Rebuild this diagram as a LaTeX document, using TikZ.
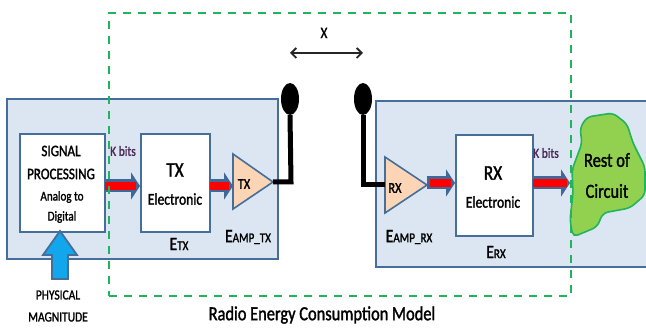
\documentclass[tikz,border=0pt]{standalone}
\usepackage{fontspec}
\setmainfont{Carlito}[FakeStretch=0.82,FakeBold=1.5]
\usetikzlibrary{arrows.meta,shapes.geometric}
\definecolor{panelfill}{HTML}{DCE6F2}
\definecolor{panelline}{HTML}{466E9A}
\definecolor{dashgreen}{HTML}{22B45C}
\definecolor{blobfill}{HTML}{92D050}
\definecolor{ampfill}{HTML}{FBD5B5}
\definecolor{upblue}{HTML}{12A6EC}
\definecolor{shaftblue}{HTML}{3F6797}
\definecolor{kbit}{HTML}{4A2A55}
\tikzset{
 x=1pt,y=-1pt,
 panel/.style={draw=panelline,fill=panelfill,line width=2pt},
 procbox/.style={draw=panelline,fill=white,line width=2pt,inner sep=0pt,anchor=north west,align=center},
 amp/.style={draw=panelline,fill=ampfill,line width=1.6pt,line join=miter},
 shaftline/.style={-{Triangle[length=9pt,width=27pt]},draw=shaftblue,line width=13pt},
 redline/.style={draw=red,line width=8pt},
 aerial/.style={draw=black,line width=5pt,line join=miter},
 aerialtop/.style={ellipse,fill=black,minimum width=18pt,minimum height=32pt,inner sep=0pt},
 txt/.style={inner sep=0pt,text=black,align=center},
}
\begin{document}
\begin{tikzpicture}
\useasboundingbox (0,0) rectangle (646,328);
% panels
\draw[panel] (7,99) rectangle (278,259);
\path[panel] (376,101) -- (650,101) -- (650,267) -- (376,267) -- cycle;
% boxes
\node[procbox,minimum width=85pt,minimum height=98pt] (sp) at (19,133) {};
\node[procbox,minimum width=69pt,minimum height=98pt] (tx) at (140,133) {};
\node[procbox,minimum width=77pt,minimum height=101pt] (rx) at (455,134) {};
\node[txt,font=\fontsize{16}{18}\selectfont] at (61,151) {SIGNAL};
\node[txt,font=\fontsize{16}{18}\selectfont] at (61,174) {PROCESSING};
\node[txt,font=\fontsize{13.5}{15}\selectfont] at (62,197) {Analog to};
\node[txt,font=\fontsize{13.5}{15}\selectfont] at (62,217) {Digital};
\node[txt,font=\fontsize{21}{23}\selectfont] at (175,170) {TX};
\node[txt,font=\fontsize{16.5}{18}\selectfont] at (175,199) {Electronic};
\node[txt,font=\fontsize{21}{23}\selectfont] at (493,173) {RX};
\node[txt,font=\fontsize{16.5}{18}\selectfont] at (493,202) {Electronic};
% amplifiers
\coordinate (txin) at (233,182);
\coordinate (txout) at (273,182);
\coordinate (rxin) at (385,185);
\coordinate (rxout) at (427,185);
\draw[amp] (233,154) -- (txout) -- (233,209) -- cycle;
\draw[amp] (385,157) -- (rxout) -- (385,213) -- cycle;
\node[txt,font=\fontsize{15}{17}\selectfont] at (244,184) {TX};
\node[txt,font=\fontsize{15}{17}\selectfont] at (395,188) {RX};
% blob
\draw[draw=dashgreen,fill=blobfill,line width=1.6pt,rounded corners=5pt] (587,117) -- (613,113) -- (627,124) -- (633,143) -- (645,167) -- (645,195) -- (630,208) -- (603,213) -- (597,227) -- (573,237) -- (570,220) -- (573,193) -- (572,170) -- (582,143) -- (580,128) -- cycle;
\node[txt,font=\fontsize{20}{22}\selectfont] (rest) at (607,160) {Rest of};
\node[txt,font=\fontsize{20}{22}\selectfont] (circ) at (607,191) {Circuit};
% data arrows
\draw[shaftline] (sp.east |- 0,186) -- (tx.west |- 0,186);
\draw[redline] (105,186) -- (136,186);
\draw[shaftline] (tx.east |- 0,186) -- (txin |- 0,186);
\draw[redline] (210,186) -- (229,186);
\draw[shaftline] (rxout |- 0,183) -- (rx.west |- 0,183);
\draw[redline] (430,183) -- (451,183);
\draw[shaftline] (rx.east |- 0,183) -- (570,183);
\draw[redline] (533,183) -- (567,183);
% aerials
\node[aerialtop] (ta) at (290,99) {};
\node[aerialtop] (ra) at (363,99) {};
\draw[aerial] (ta.south) -- (291,182) -- (txout);
\draw[aerial] (ra.south) -- (363,185) -- (rxin);
% input arrow
\draw[draw=panelline,fill=upblue,line width=1.8pt] (60,231) -- (77,255) -- (68,255) -- (68,279) -- (52,279) -- (52,255) -- (43,255) -- cycle;
% dashed frame
\node[draw=dashgreen,dash pattern=on 8pt off 7pt,line width=2.2pt,inner sep=0pt,minimum width=462pt,minimum height=283pt,anchor=north west] (frame) at (108,12) {};
% spacing
\coordinate (xl) at (290,53);
\coordinate (xr) at (363,53);
\draw[{Straight Barb[length=5pt,width=10pt]}-{Straight Barb[length=5pt,width=10pt]},draw=black!85,line width=1.8pt] (xl) -- (xr);
\node[txt,font=\fontsize{16}{18}\selectfont] at (324,33) {X};
% labels
\node[txt,text=kbit,font=\fontsize{14}{16}\selectfont] at (123,151) {K bits};
\node[txt,text=kbit,font=\fontsize{14}{16}\selectfont] at (546,153) {K bits};
\node[txt,font=\fontsize{19}{21}\selectfont] at (179,244) {E\fontsize{13.5}{15}\selectfont TX};
\node[txt,font=\fontsize{19}{21}\selectfont] at (248,237) {E\fontsize{13.5}{15}\selectfont AMP\_TX};
\node[txt,font=\fontsize{19}{21}\selectfont] at (409,237) {E\fontsize{13.5}{15}\selectfont AMP\_RX};
\node[txt,font=\fontsize{19}{21}\selectfont] at (496,252) {E\fontsize{13.5}{15}\selectfont RX};
\node[txt,font=\fontsize{14}{16}\selectfont] at (58,295) {PHYSICAL};
\node[txt,font=\fontsize{14}{16}\selectfont] at (58,317) {MAGNITUDE};
\node[txt,font=\fontsize{20}{22}\selectfont] at (322,315) {Radio Energy Consumption Model};
\end{tikzpicture}
\end{document}
